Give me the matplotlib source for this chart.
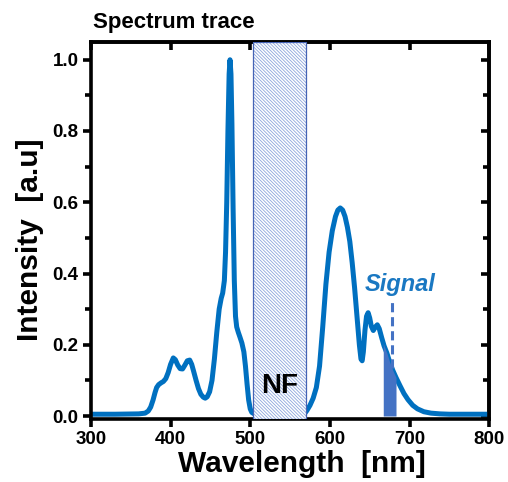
import numpy as np
import matplotlib as mpl
import matplotlib.pyplot as plt
from matplotlib.ticker import MultipleLocator

plt.rcParams['font.family'] = ['Liberation Sans', 'DejaVu Sans']
plt.rcParams['font.weight'] = 'bold'
plt.rcParams['hatch.linewidth'] = 0.6

# spectrum (wavelength nm, normalised intensity)
wavelength = [300, 330, 360, 368, 372, 375, 378, 380.5, 382.5, 385, 388, 391, 394, 397,
              400, 403.4, 406, 409, 412, 415, 418, 421, 424, 426.5, 429, 432, 435,
              438, 441, 443.5, 446, 449, 452, 455, 458, 461, 463.5, 465.4, 467.5, 469,
              470.5, 472, 473.5, 474.6, 475.8, 477, 478.5, 480, 481.5, 483, 485, 487,
              489.5, 492, 494, 496, 498, 500, 502, 505,
              568, 571, 575, 579, 583, 587, 591, 595, 599, 603, 607, 610, 613, 616,
              619, 622, 625, 628, 631, 634, 637, 639, 640.5, 642, 644, 646, 648, 650,
              652, 654.5, 657, 659.5, 662, 665, 668, 671.5, 675, 679, 683, 688, 693,
              698, 704, 710, 718, 727, 738, 750, 780, 800]
intensity = [0.005, 0.005, 0.006, 0.008, 0.014, 0.025, 0.045, 0.066, 0.08, 0.088, 0.093, 0.097,
             0.105, 0.122, 0.145, 0.163, 0.158, 0.143, 0.133, 0.132, 0.143, 0.155, 0.157,
             0.145, 0.125, 0.1, 0.077, 0.061, 0.053, 0.05, 0.054, 0.068, 0.1, 0.16,
             0.235, 0.3, 0.33, 0.345, 0.38, 0.46, 0.6, 0.8, 0.96, 1.0, 0.96, 0.82, 0.58,
             0.38, 0.28, 0.25, 0.235, 0.222, 0.205, 0.18, 0.14, 0.09, 0.045, 0.02, 0.01,
             0.006,
             0.006, 0.015, 0.03, 0.05, 0.08, 0.14, 0.25, 0.37, 0.46, 0.52, 0.56, 0.578,
             0.584, 0.578, 0.56, 0.53, 0.49, 0.43, 0.36, 0.28, 0.2, 0.16, 0.155, 0.18,
             0.24, 0.28, 0.29, 0.275, 0.252, 0.24, 0.25, 0.256, 0.245, 0.22, 0.197,
             0.177, 0.152, 0.128, 0.108, 0.085, 0.063, 0.046, 0.03, 0.02, 0.012, 0.008,
             0.006, 0.005, 0.005, 0.005]

nf_band = (503, 570)
signal_band = (667, 683)
signal_line = 678
signal_top = 0.33

wl = np.array(wavelength)
inten = np.array(intensity)

fig = plt.figure(figsize=(5.08, 4.82), dpi=100)
ax = fig.add_axes([0.179, 0.131, 0.784, 0.782])

blue = '#0070C0'
ax.plot(wl, inten, color=blue, lw=3.6, solid_joinstyle='round', solid_capstyle='round', zorder=2)

# notch filter band: light hatch plus darker outline
ax.axvspan(nf_band[0], nf_band[1], facecolor='white', edgecolor='#8CA6DC',
           hatch='\\' * 10, lw=0, zorder=3)
ax.axvspan(nf_band[0], nf_band[1], facecolor='none', edgecolor='#4563B5', lw=0.9, zorder=3)

sx = np.linspace(signal_band[0], signal_band[1], 30)
ax.fill_between(sx, 0, np.interp(sx, wl, inten), color='#4472C4', lw=0, zorder=3)
ax.plot([signal_line, signal_line], [np.interp(signal_line, wl, inten), signal_top],
        color='#4472C4', lw=2.2, ls=(0, (3, 1.6)), zorder=3)

ax.text(537, 0.085, 'NF', fontsize=20, fontweight='bold', ha='center', va='center', zorder=4)
ax.text(688, 0.37, 'Signal', fontsize=17, fontweight='bold', style='italic',
        color='#1A78C2', ha='center', va='center')

ax.set_xlim(300, 800)
ax.set_ylim(-0.008, 1.05)
ax.xaxis.set_major_locator(MultipleLocator(100))
ax.yaxis.set_major_locator(MultipleLocator(0.2))
ax.yaxis.set_minor_locator(MultipleLocator(0.1))
ax.yaxis.set_major_formatter(mpl.ticker.FormatStrFormatter('%.1f'))

for s in ax.spines.values():
    s.set_linewidth(2.6)
ax.tick_params(which='major', direction='out', length=6, width=2.6, labelsize=13.5, pad=3)
ax.tick_params(which='minor', direction='out', length=4, width=2.6)
ax.tick_params(which='both', top=False, right=False)
for lab in ax.get_xticklabels() + ax.get_yticklabels():
    lab.set_fontweight('bold')

# mirrored inward ticks on top and right
ax_top = ax.secondary_xaxis('top')
ax_top.xaxis.set_major_locator(MultipleLocator(100))
ax_top.tick_params(direction='in', length=6, width=2.6, labeltop=False)
ax_top.spines['top'].set_linewidth(2.6)
ax_r = ax.secondary_yaxis('right')
ax_r.yaxis.set_major_locator(MultipleLocator(0.2))
ax_r.yaxis.set_minor_locator(MultipleLocator(0.1))
ax_r.tick_params(which='major', direction='in', length=6, width=2.6, labelright=False)
ax_r.tick_params(which='minor', direction='in', length=4, width=2.6, labelright=False)
ax_r.spines['right'].set_linewidth(2.6)

ax.set_xlabel('Wavelength  [nm]', fontsize=21.5, fontweight='bold', labelpad=1)
ax.xaxis.label.set_x(0.53)
ax.set_ylabel('Intensity  [a.u]', fontsize=21.5, fontweight='bold', labelpad=6)
ax.yaxis.label.set_y(0.475)
ax.set_title('Spectrum trace', fontsize=16, fontweight='bold', loc='left', pad=10, x=0.005)

fig.savefig('out.png', dpi=100)
